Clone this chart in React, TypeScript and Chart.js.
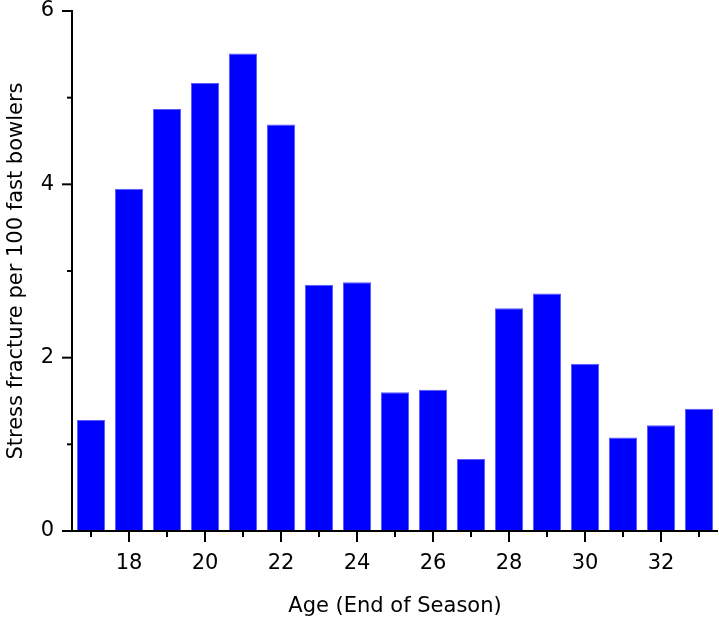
import React, { useEffect, useRef } from 'react';
import { Chart, registerables } from 'chart.js';

Chart.register(...registerables);

const ages = [17, 18, 19, 20, 21, 22, 23, 24, 25, 26, 27, 28, 29, 30, 31, 32, 33];
const fractureRates = [1.28, 3.95, 4.87, 5.17, 5.51, 4.69, 2.84, 2.87, 1.6, 1.63, 0.83, 2.57, 2.74, 1.93, 1.08, 1.22, 1.41];
const xLabelAges = [18, 20, 22, 24, 26, 28, 30, 32];
const yMajorTicks = [0, 2, 4, 6];
const yMinorTicks = [1, 3, 5];
const xTitle = 'Age (End of Season)';
const yTitle = 'Stress fracture per 100 fast bowlers';

const FONT = "'DejaVu Sans', sans-serif";

const axesPlugin = {
  id: 'originAxes',
  afterDraw(chart: any) {
    const { ctx, chartArea, scales } = chart;
    const xs = scales.x;
    const ys = scales.y;
    const x0 = chartArea.left;
    const y0 = chartArea.bottom;
    ctx.save();
    ctx.strokeStyle = '#000';
    ctx.lineWidth = 2;
    ctx.lineCap = 'butt';
    const line = (a: number, b: number, c: number, d: number) => {
      ctx.beginPath();
      ctx.moveTo(a, b);
      ctx.lineTo(c, d);
      ctx.stroke();
    };
    line(x0, ys.getPixelForValue(6) - 1, x0, y0 + 1);
    line(x0 - 1, y0, chartArea.right, y0);
    yMajorTicks.forEach((v) => {
      const p = ys.getPixelForValue(v);
      line(x0 - 10, p, x0, p);
    });
    yMinorTicks.forEach((v) => {
      const p = ys.getPixelForValue(v);
      line(x0 - 5, p, x0, p);
    });
    ages.forEach((a, i) => {
      const p = Math.round(xs.getPixelForValue(i));
      const len = xLabelAges.includes(a) ? 11 : 6;
      line(p, y0, p, y0 + len);
    });
    ctx.restore();
  },
};

export default function App() {
  const ref = useRef<HTMLCanvasElement>(null);
  useEffect(() => {
    document.body.style.margin = '0';
    const canvas = ref.current;
    if (!canvas) return;
    const chart = new Chart(canvas, {
      type: 'bar',
      data: {
        labels: ages.map(String),
        datasets: [
          {
            data: fractureRates,
            backgroundColor: '#0000ff',
            borderColor: '#5a5aff',
            borderWidth: 1,
            categoryPercentage: 1,
            barPercentage: 0.74,
          },
        ],
      },
      options: {
        responsive: false,
        animation: false,
        devicePixelRatio: 1,
        layout: { padding: { top: 11, right: 1, left: 0, bottom: 0 } },
        plugins: { legend: { display: false }, tooltip: { enabled: false } },
        scales: {
          x: {
            offset: true,
            grid: { display: false, drawTicks: false },
            border: { display: false },
            ticks: {
              autoSkip: false,
              maxRotation: 0,
              minRotation: 0,
              padding: 20,
              color: '#000',
              font: { family: FONT, size: 21 },
              callback: (_v: any, i: number) => (xLabelAges.includes(ages[i]) ? String(ages[i]) : ''),
            },
            title: {
              display: true,
              text: xTitle,
              color: '#000',
              font: { family: FONT, size: 21 },
              padding: { top: 0, bottom: -2 },
            },
            afterFit: (s: any) => {
              s.height = 86;
              s.paddingLeft = 0;
              s.paddingRight = 0;
            },
          },
          y: {
            min: 0,
            max: 6,
            grid: { display: false, drawTicks: false },
            border: { display: false },
            ticks: {
              stepSize: 2,
              padding: 18,
              color: '#000',
              font: { family: FONT, size: 21 },
            },
            title: {
              display: true,
              text: yTitle,
              color: '#000',
              font: { family: FONT, size: 21 },
              padding: { top: 4, bottom: 0 },
            },
            afterFit: (s: any) => {
              s.width = 72;
              s.paddingTop = 0;
              s.paddingBottom = 0;
            },
          },
        },
      },
      plugins: [axesPlugin],
    });
    return () => chart.destroy();
  }, []);
  return <canvas ref={ref} width={719} height={617} style={{ display: 'block', width: 719, height: 617 }} />;
}
